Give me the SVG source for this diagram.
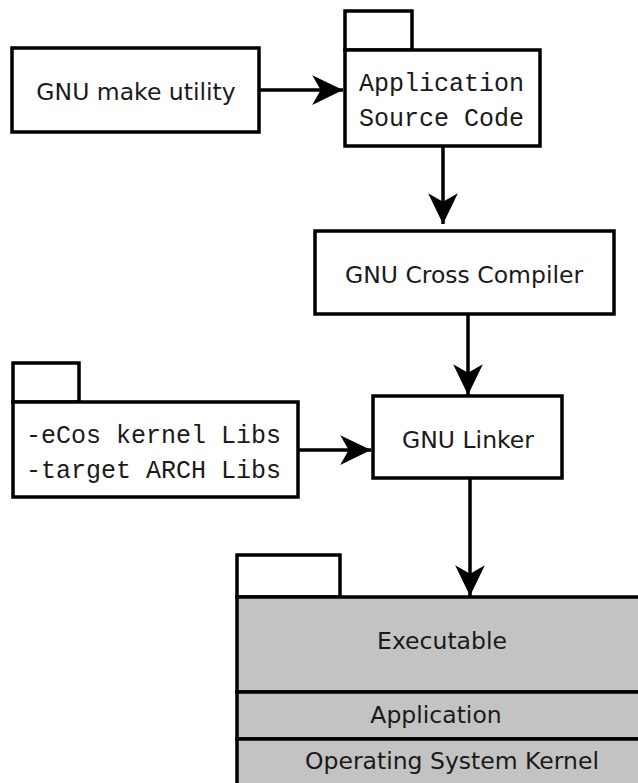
<svg xmlns="http://www.w3.org/2000/svg" width="638" height="783" viewBox="0 0 638 783">
<style>
.box{fill:#fff;stroke:#000;stroke-width:3.5}
.gray{fill:#c3c3c3;stroke:#000;stroke-width:3.5}
.lbl{font-family:"DejaVu Sans",sans-serif;font-size:23.5px;fill:#1a1a1a;text-anchor:middle}
.mono{font-family:"Liberation Mono",monospace;font-size:25px;fill:#1a1a1a}
.edge{stroke:#000;stroke-width:3.5;fill:none}
</style>
<defs>
<marker id="ah" markerUnits="userSpaceOnUse" markerWidth="34" markerHeight="34" viewBox="-30 -15 32 30" refX="0" refY="0" orient="auto">
<path d="M0,0 L-29,-14 L-21,0 L-29,14 Z" fill="#000"/>
</marker>
</defs>
<rect width="638" height="783" fill="#fff"/>
<g id="edges">
<path class="edge" d="M259,90 L343,90" marker-end="url(#ah)"/>
<path class="edge" d="M443,146 L443,224" marker-end="url(#ah)"/>
<path class="edge" d="M468,314 L468,395" marker-end="url(#ah)"/>
<path class="edge" d="M298,450 L371,450" marker-end="url(#ah)"/>
<path class="edge" d="M470,478 L470,596" marker-end="url(#ah)"/>
</g>
<g id="make">
<rect class="box" x="12" y="48" width="247" height="84"/>
<text class="lbl" x="136" y="100">GNU make utility</text>
</g>
<g id="appsrc">
<rect class="box" x="345" y="11" width="67" height="39"/>
<rect class="box" x="345" y="50" width="195" height="96"/>
<text class="mono" x="359" y="91">Application</text>
<text class="mono" x="359" y="126">Source Code</text>
</g>
<g id="compiler">
<rect class="box" x="315" y="231" width="299" height="83"/>
<text class="lbl" x="464" y="283">GNU Cross Compiler</text>
</g>
<g id="libs">
<rect class="box" x="13" y="363" width="66" height="39"/>
<rect class="box" x="13" y="402" width="285" height="95"/>
<text class="mono" x="26" y="443">-eCos kernel Libs</text>
<text class="mono" x="26" y="478">-target ARCH Libs</text>
</g>
<g id="linker">
<rect class="box" x="373" y="396" width="189" height="82"/>
<text class="lbl" x="468" y="448">GNU Linker</text>
</g>
<g id="executable">
<rect class="box" x="237" y="555" width="103" height="42"/>
<rect class="gray" x="237" y="597" width="420" height="95"/>
<rect class="gray" x="237" y="692" width="420" height="47"/>
<rect class="gray" x="237" y="739" width="420" height="60"/>
<text class="lbl" x="442" y="649">Executable</text>
<text class="lbl" x="436" y="723">Application</text>
<text class="lbl" x="452" y="769">Operating System Kernel</text>
</g>
</svg>
